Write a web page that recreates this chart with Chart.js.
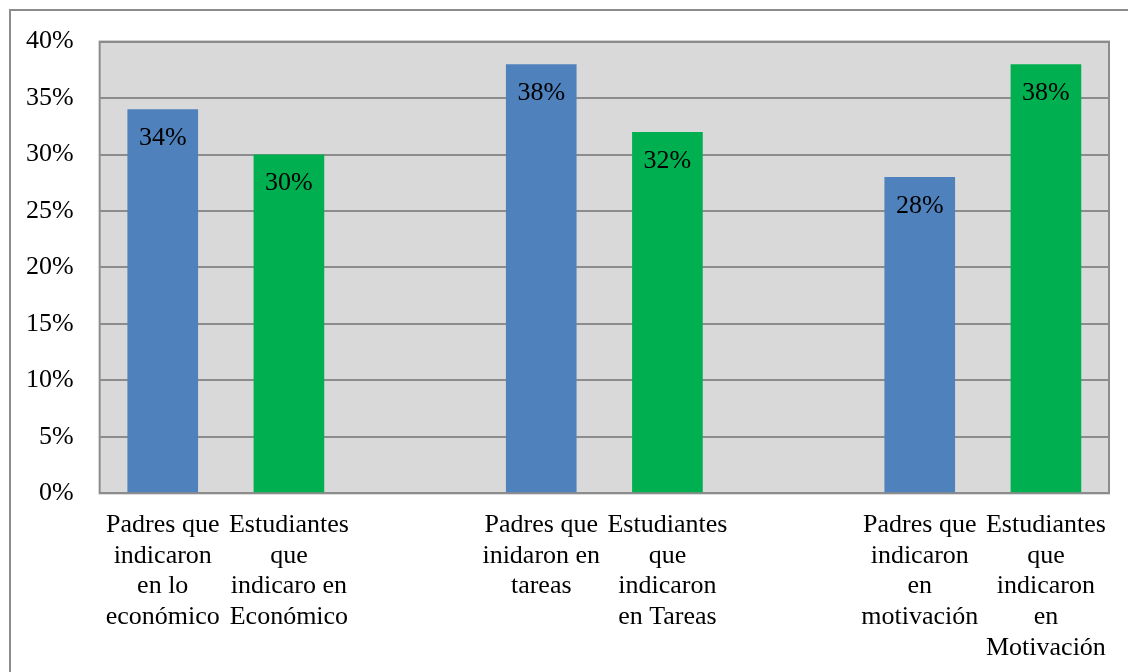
<!DOCTYPE html>
<html>
<head>
<meta charset="utf-8">
<script src="https://cdn.jsdelivr.net/npm/chart.js@4/dist/chart.umd.min.js"></script>
<style>
  html, body { margin: 0; padding: 0; background: #fff; }
  #wrap { width: 1128px; height: 672px; }
</style>
</head>
<body>
<div id="wrap"><canvas id="mycanvas" width="1128" height="672"></canvas></div>
<script>
// categories (empty slots are the gaps between groups)
const categories = [
  ["Padres que", "indicaron", "en lo", "económico"],
  ["Estudiantes", "que", "indicaro en", "Económico"],
  "",
  ["Padres que", "inidaron en", "tareas"],
  ["Estudiantes", "que", "indicaron", "en Tareas"],
  "",
  ["Padres que", "indicaron", "en", "motivación"],
  ["Estudiantes", "que", "indicaron", "en", "Motivación"]
];
const values = [34, 30, null, 38, 32, null, 28, 38];
const barColors = ["#4f81bd", "#00b050", "#4f81bd", "#4f81bd", "#00b050", "#00b050", "#4f81bd", "#00b050"];
const yTicks = [0, 5, 10, 15, 20, 25, 30, 35, 40];

const serif = '"Liberation Serif", "Times New Roman", serif';

// gray plot background + outer frame
const framePlugin = {
  id: 'frame',
  beforeDraw(chart) {
    const ctx = chart.ctx;
    const a = chart.chartArea;
    ctx.save();
    ctx.fillStyle = "#fff";
    ctx.fillRect(0, 0, chart.width, chart.height);
    ctx.strokeStyle = "#8c8c8c";
    ctx.lineWidth = 2;
    ctx.strokeRect(10, 10, chart.width + 20, chart.height + 20);
    ctx.fillStyle = "#d9d9d9";
    ctx.fillRect(a.left, a.top, a.right - a.left, a.bottom - a.top);
    ctx.restore();
  },
  beforeDatasetsDraw(chart) {
    const ctx = chart.ctx;
    const a = chart.chartArea;
    ctx.save();
    ctx.strokeStyle = "#8c8c8c";
    ctx.lineWidth = 2;
    ctx.strokeRect(a.left, a.top, a.right - a.left, a.bottom - a.top);
    ctx.restore();
  }
};

// value labels inside top of each bar
const valueLabels = {
  id: 'valueLabels',
  afterDatasetsDraw(chart) {
    const ctx = chart.ctx;
    const meta = chart.getDatasetMeta(0);
    ctx.save();
    ctx.font = "26px " + serif;
    ctx.fillStyle = "#000";
    ctx.textAlign = "center";
    ctx.textBaseline = "middle";
    meta.data.forEach(function (bar, i) {
      if (values[i] == null) return;
      ctx.fillText(values[i] + "%", bar.x, bar.y + 29);
    });
    ctx.restore();
  }
};

const config = {
  type: 'bar',
  data: {
    labels: categories,
    datasets: [{
      data: values,
      backgroundColor: barColors,
      borderWidth: 0,
      categoryPercentage: 1,
      barPercentage: 0.56
    }]
  },
  options: {
    responsive: false,
    animation: false,
    layout: { padding: { left: 0, top: 38, right: 19, bottom: 0 } },
    plugins: { legend: { display: false }, tooltip: { enabled: false } },
    scales: {
      x: {
        grid: { display: false },
        border: { display: false },
        ticks: {
          color: "#000",
          font: { family: serif, size: 26, lineHeight: 1.19 },
          maxRotation: 0,
          minRotation: 0,
          autoSkip: false,
          padding: 8
        }
      },
      y: {
        min: 0,
        max: 40,
        afterBuildTicks(axis) { axis.ticks = yTicks.map(v => ({ value: v })); },
        grid: { color: "#8c8c8c", lineWidth: 2, drawTicks: false },
        border: { display: false },
        ticks: {
          color: "#000",
          font: { family: serif, size: 26 },
          padding: 26,
          callback: v => v + "%"
        }
      }
    }
  },
  plugins: [framePlugin, valueLabels]
};

const myChart = new Chart(document.getElementById("mycanvas"), config);
</script>
</body>
</html>
